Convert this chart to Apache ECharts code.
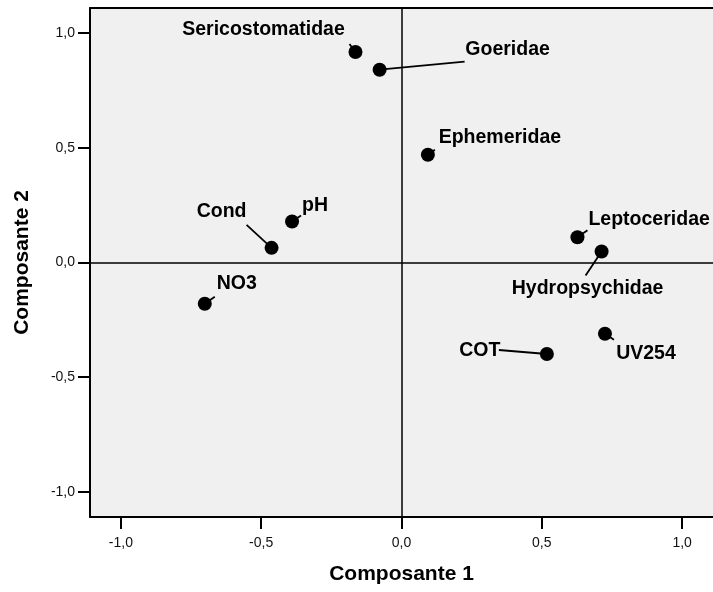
<!DOCTYPE html>
<html>
<head>
<meta charset="utf-8">
<script src="https://cdn.jsdelivr.net/npm/echarts@6/dist/echarts.min.js"></script>
<style>
  html, body { margin: 0; padding: 0; background: #ffffff; }
  #chart { width: 713px; height: 592px; }
</style>
</head>
<body>
<div id="chart"></div>
<script>
// Variables / taxa projected on the first two principal components
const names = ['Sericostomatidae', 'Goeridae', 'Ephemeridae', 'Cond', 'pH', 'NO3',
               'Leptoceridae', 'Hydropsychidae', 'COT', 'UV254'];
const comp1 = [-0.164, -0.078, 0.094, -0.463, -0.390, -0.701, 0.627, 0.713, 0.518, 0.725];
const comp2 = [0.918, 0.841, 0.470, 0.064, 0.179, -0.180, 0.110, 0.048, -0.399, -0.311];

// Axis ticks
const tickValues = [-1.0, -0.5, 0.0, 0.5, 1.0];

// Label placement: text offset and leader end, in pixels relative to each point
const labelPlacement = [
  { dx: -92, dy: -22, lx: -6,  ly: -8,  align: 'center' },
  { dx: 128, dy: -20, lx: 85,  ly: -8,  align: 'center' },
  { dx: 72,  dy: -17, lx: 7,   ly: -5,  align: 'center' },
  { dx: -50, dy: -36, lx: -25, ly: -23, align: 'center' },
  { dx: 23,  dy: -16, lx: 9,   ly: -6,  align: 'center' },
  { dx: 32,  dy: -20, lx: 10,  ly: -7,  align: 'center' },
  { dx: 11,  dy: -18, lx: 10,  ly: -7,  align: 'left' },
  { dx: -14, dy: 37,  lx: -16, ly: 24,  align: 'center' },
  { dx: -67, dy: -3,  lx: -48, ly: -4,  align: 'center' },
  { dx: 41,  dy: 20,  lx: 9,   ly: 6,   align: 'center' }
];

const FONT = '"Liberation Sans", Arial, Helvetica, sans-serif';
const points = names.map((n, i) => [comp1[i], comp2[i], n]);
const fmt = v => v.toFixed(1).replace('.', ',');

const chart = echarts.init(document.getElementById('chart'), null, { renderer: 'canvas' });

const axisCommon = {
  type: 'value',
  min: -1.11,
  max: 1.11,
  nameLocation: 'middle',
  nameTextStyle: { fontFamily: FONT, fontWeight: 'bold', fontSize: 21, color: '#000' },
  axisLine: { show: true, onZero: false, lineStyle: { color: '#000', width: 2 } },
  axisTick: { show: true, inside: false, length: 12, customValues: tickValues,
              lineStyle: { color: '#000', width: 2 } },
  splitLine: { show: false },
  axisLabel: { customValues: tickValues, formatter: fmt,
               fontFamily: FONT, fontSize: 14, color: '#111' }
};

chart.setOption({
  animation: false,
  backgroundColor: '#ffffff',
  grid: {
    left: 90, top: 8, width: 624, height: 509,
    show: true, backgroundColor: '#f0f0f0', borderWidth: 0
  },
  xAxis: [
    Object.assign({}, axisCommon, {
      name: 'Composante 1', nameGap: 47,
      axisLabel: Object.assign({}, axisCommon.axisLabel, { margin: 19 })
    }),
    {
      // top frame line of the plot area
      type: 'value', position: 'top', min: -1.11, max: 1.11,
      axisLine: { show: true, onZero: false, lineStyle: { color: '#000', width: 2 } },
      axisTick: { show: false }, axisLabel: { show: false }, splitLine: { show: false }
    }
  ],
  yAxis: Object.assign({}, axisCommon, {
    name: 'Composante 2', nameGap: 57,
    axisLabel: Object.assign({}, axisCommon.axisLabel, { margin: 15 })
  }),
  series: [
    {
      // zero reference lines
      type: 'scatter',
      data: [],
      silent: true,
      markLine: {
        silent: true,
        symbol: 'none',
        label: { show: false },
        lineStyle: { color: '#000', width: 1.5, type: 'solid', opacity: 1 },
        data: [{ xAxis: 0 }, { yAxis: 0 }]
      }
    },
    {
      // labels with leader lines
      type: 'custom',
      z: 3,
      clip: false,
      data: points,
      renderItem: function (params, api) {
        const p = api.coord([api.value(0), api.value(1)]);
        const L = labelPlacement[params.dataIndex];
        return {
          type: 'group',
          children: [
            {
              type: 'line',
              shape: { x1: p[0], y1: p[1], x2: p[0] + L.lx, y2: p[1] + L.ly },
              style: { stroke: '#000', lineWidth: 1.8 }
            },
            {
              type: 'text',
              style: {
                x: p[0] + L.dx, y: p[1] + L.dy,
                text: names[params.dataIndex],
                fill: '#000',
                font: 'bold 19.5px ' + FONT,
                align: L.align,
                verticalAlign: 'middle'
              }
            }
          ]
        };
      }
    },
    {
      type: 'scatter',
      z: 5,
      symbol: 'circle',
      symbolSize: 14,
      itemStyle: { color: '#000', opacity: 1 },
      data: points
    }
  ]
});
</script>
</body>
</html>
